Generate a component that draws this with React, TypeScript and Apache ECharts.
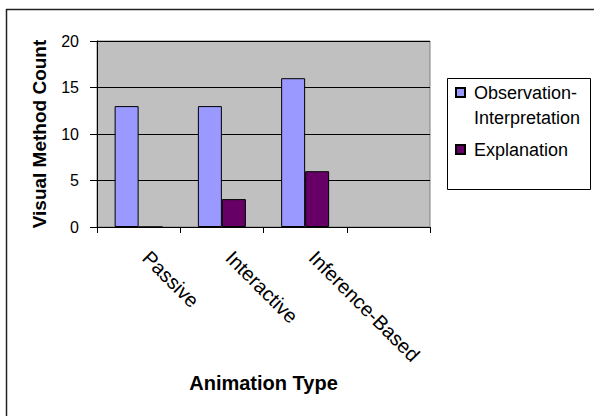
import React, { useEffect, useRef } from "react";
import * as echarts from "echarts";

const categories: string[] = ["Passive", "Interactive", "Inference-Based", ""];
const observationInterpretation: (number | null)[] = [13, 13, 16, null];
const explanation: (number | null)[] = [0, 3, 6, null];
const yTicks = { min: 0, max: 20, interval: 5 };
const seriesNames = ["Observation-\nInterpretation", "Explanation"];

const FONT = "'Liberation Sans', Arial, sans-serif";

// legend icons: a 9x9 square inside a 13x34 box (invisible corner points set the box)
const ICON_TOP = "path://M0,0L9,0L9,9L0,9Z M13,34L13,34";
const ICON_MID = "path://M0,0L0,0 M0,12.5L9,12.5L9,21.5L0,21.5Z M13,34L13,34";

export default function App() {
  const ref = useRef<HTMLDivElement>(null);
  useEffect(() => {
    if (!ref.current) return;
    const chart = echarts.init(ref.current, undefined, { renderer: "svg" });
    chart.setOption({
      animation: false,
      backgroundColor: "#ffffff",
      textStyle: { fontFamily: FONT },
      graphic: [
        {
          type: "line",
          shape: { x1: 6, y1: 9.5, x2: 594, y2: 9.5 },
          style: { stroke: "#222", lineWidth: 1.5 },
        },
        {
          type: "line",
          shape: { x1: 6.5, y1: 9, x2: 6.5, y2: 416 },
          style: { stroke: "#222", lineWidth: 1.5 },
        },
        {
          type: "rect",
          z: -1,
          shape: { x: 447.5, y: 78.5, width: 143, height: 111 },
          style: { fill: "#ffffff", stroke: "#000", lineWidth: 1 },
        },
      ],
      legend: {
        orient: "vertical",
        left: 455,
        top: 80,
        padding: 0,
        itemWidth: 13,
        itemHeight: 34,
        itemGap: 1.5,
        textStyle: { fontFamily: FONT, fontSize: 18, color: "#000", lineHeight: 25 },
        data: [
          { name: seriesNames[0], icon: ICON_TOP },
          { name: seriesNames[1], icon: ICON_MID },
        ],
      },
      grid: {
        left: 97,
        right: 164,
        top: 41,
        bottom: 189,
        show: true,
        backgroundColor: "#C0C0C0",
        borderColor: "#808080",
        borderWidth: 1,
      },
      xAxis: {
        type: "category",
        data: categories,
        name: "Animation Type",
        nameLocation: "middle",
        nameGap: 146,
        nameTextStyle: { fontFamily: FONT, fontSize: 20, fontWeight: "bold", color: "#000" },
        axisLine: { lineStyle: { color: "#000", width: 1 } },
        axisTick: { show: true, length: 6, lineStyle: { color: "#000" } },
        axisLabel: {
          interval: 0,
          rotate: -45,
          margin: 20,
          padding: [0, 0, 21, 10.5],
          fontFamily: FONT,
          fontSize: 20,
          color: "#000",
        },
      },
      yAxis: {
        type: "value",
        min: yTicks.min,
        max: yTicks.max,
        interval: yTicks.interval,
        name: "Visual Method Count",
        nameLocation: "middle",
        nameGap: 48,
        nameTextStyle: { fontFamily: FONT, fontSize: 19, fontWeight: "bold", color: "#000" },
        axisLine: { show: true, lineStyle: { color: "#000", width: 1 } },
        axisTick: { show: true, length: 7, lineStyle: { color: "#000" } },
        axisLabel: { margin: 18, fontFamily: FONT, fontSize: 16, color: "#000" },
        splitLine: { show: true, lineStyle: { color: "#000", width: 1 } },
      },
      series: [
        {
          name: seriesNames[0],
          type: "bar",
          data: observationInterpretation,
          barWidth: 24,
          barGap: "0%",
          itemStyle: { color: "#9999FF", borderColor: "#000", borderWidth: 1 },
        },
        {
          name: seriesNames[1],
          type: "bar",
          data: explanation,
          barWidth: 24,
          barGap: "0%",
          itemStyle: { color: "#660066", borderColor: "#000", borderWidth: 1 },
        },
      ],
    });
    return () => chart.dispose();
  }, []);
  return (
    <div
      ref={ref}
      style={{ position: "absolute", left: 0, top: 0, width: 594, height: 416 }}
    />
  );
}
